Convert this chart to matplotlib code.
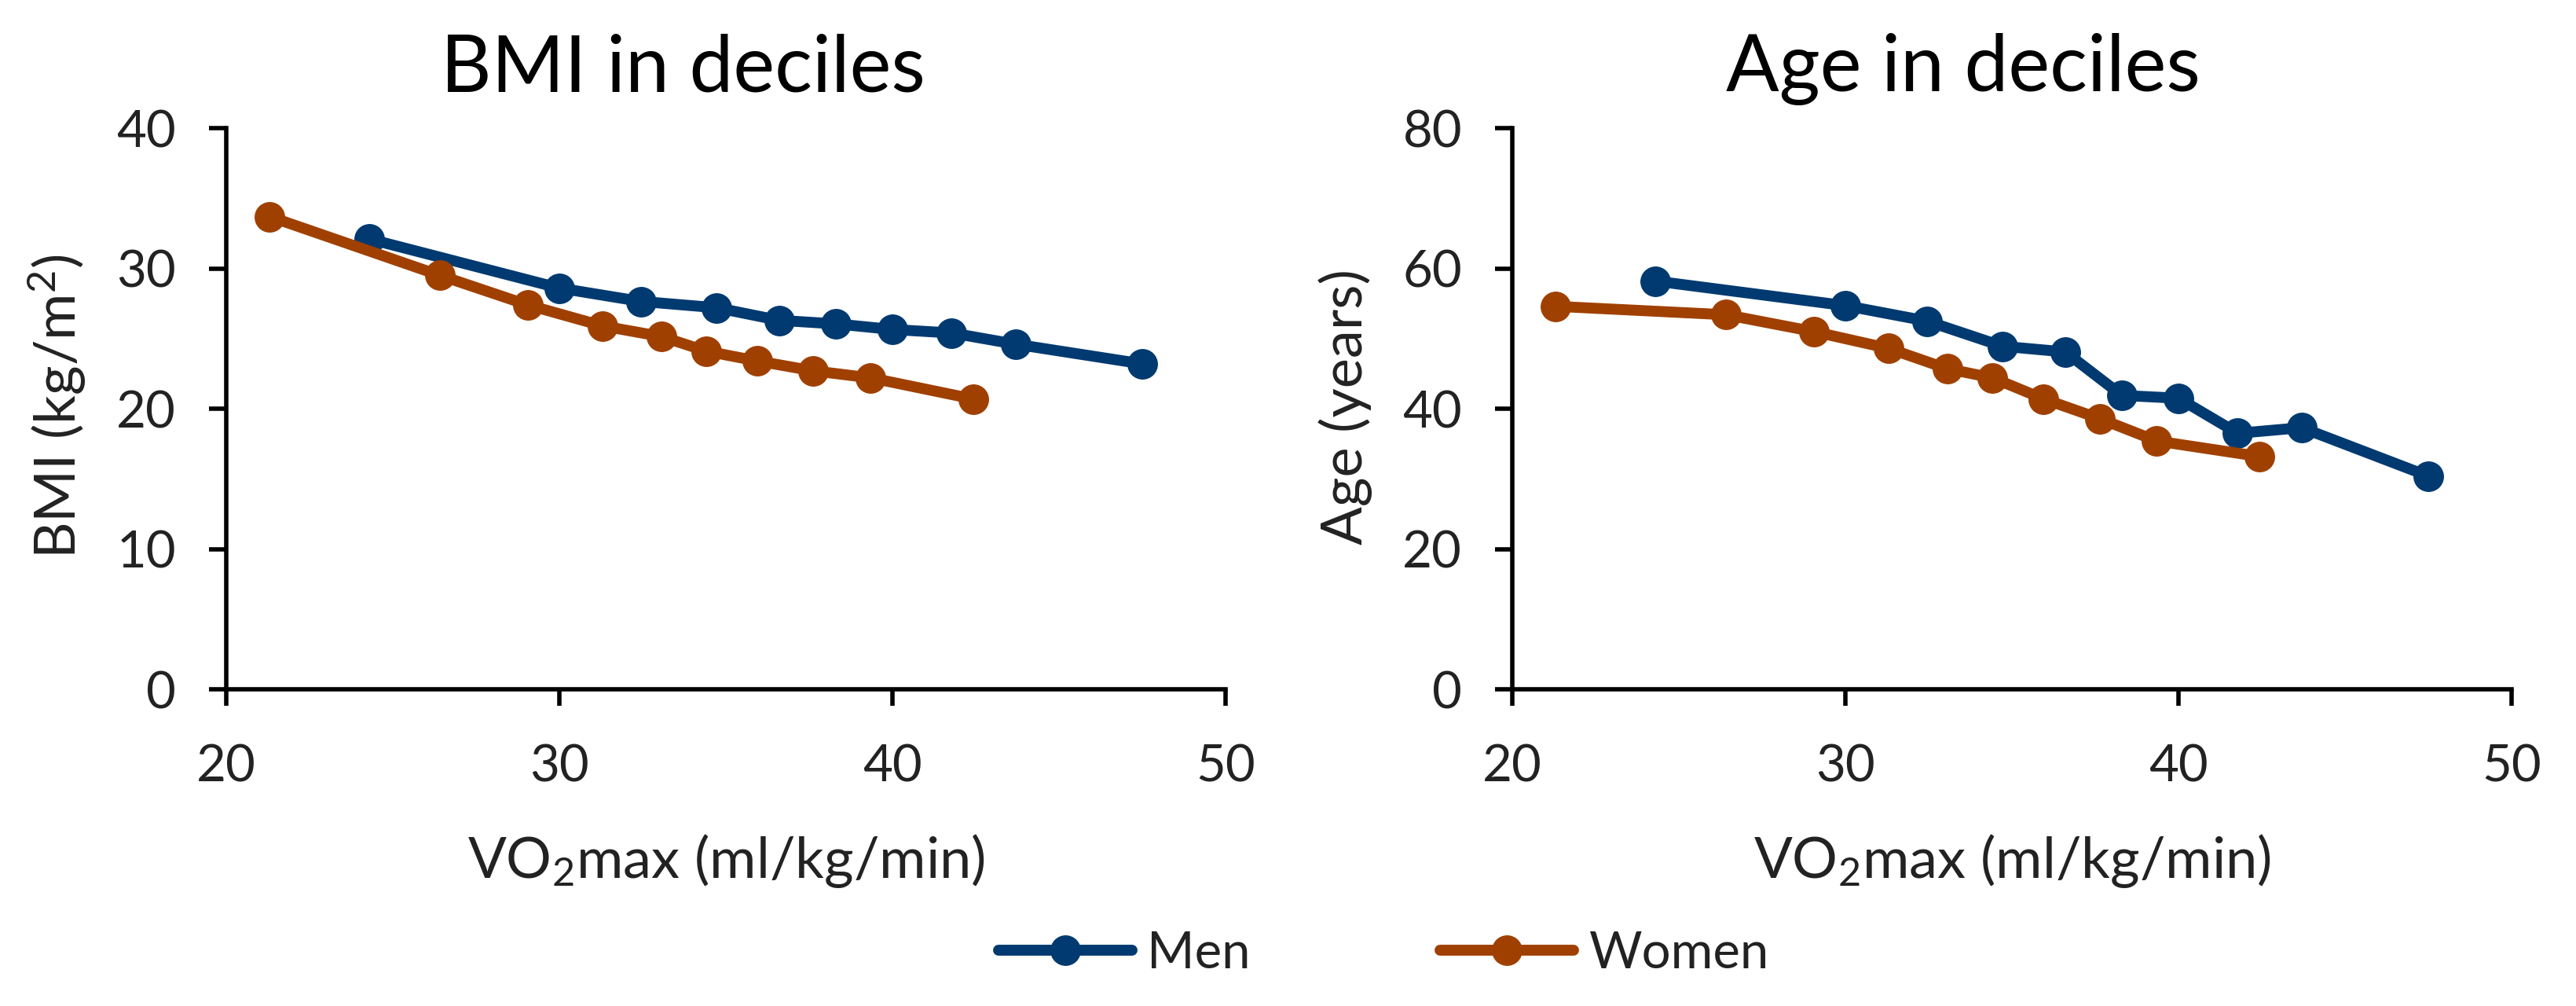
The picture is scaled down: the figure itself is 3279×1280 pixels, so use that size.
import matplotlib
matplotlib.use("Agg")
import matplotlib.pyplot as plt

plt.rcParams['font.family'] = ['Lato', 'DejaVu Sans']
plt.rcParams['mathtext.fontset'] = 'custom'
plt.rcParams['mathtext.rm'] = 'Lato'
plt.rcParams['mathtext.default'] = 'regular'

# VO2max per decile (ml/kg/min)
men_vo2 = [24.3, 30.0, 32.45, 34.72, 36.6, 38.3, 40.0, 41.78, 43.7, 47.5]
women_vo2 = [21.3, 26.42, 29.05, 31.3, 33.06, 34.42, 35.95, 37.63, 39.35, 42.42]

# BMI (kg/m2)
men_bmi = [32.1, 28.6, 27.65, 27.2, 26.3, 26.05, 25.65, 25.4, 24.6, 23.2]
women_bmi = [33.7, 29.5, 27.4, 25.9, 25.15, 24.1, 23.4, 22.7, 22.2, 20.7]

# Age (years)
men_age = [58.2, 54.7, 52.5, 48.9, 48.1, 41.9, 41.5, 36.5, 37.3, 30.4]
women_age = [54.6, 53.4, 51.0, 48.6, 45.7, 44.4, 41.4, 38.6, 35.4, 33.2]

men_color = '#003a70'
women_color = '#a04000'
text_color = '#222222'

fig = plt.figure(figsize=(32.8, 12.8), dpi=100)
ax1 = fig.add_axes([0.0878, 0.3148, 0.3878, 0.5578])
ax2 = fig.add_axes([0.5869, 0.3148, 0.3878, 0.5578])

panels = [
    (ax1, men_bmi, women_bmi, 40, [0, 10, 20, 30, 40]),
    (ax2, men_age, women_age, 80, [0, 20, 40, 60, 80]),
]

for ax, men_y, women_y, ymax, yticks in panels:
    ax.plot(men_vo2, men_y, color=men_color, lw=10, marker='o', ms=27,
            label='Men', solid_capstyle='round', clip_on=False)
    ax.plot(women_vo2, women_y, color=women_color, lw=10, marker='o', ms=27,
            label='Women', solid_capstyle='round', clip_on=False)
    ax.set_xlim(20, 50)
    ax.set_ylim(0, ymax)
    ax.set_xticks([20, 30, 40, 50])
    ax.set_yticks(yticks)
    for s in ['top', 'right']:
        ax.spines[s].set_visible(False)
    for s in ['left', 'bottom']:
        ax.spines[s].set_linewidth(4)
        ax.spines[s].set_color('black')
    ax.tick_params(axis='y', length=16, width=4, pad=30, labelsize=47,
                   labelcolor=text_color)
    ax.tick_params(axis='x', length=15, width=4, pad=35, labelsize=47,
                   labelcolor=text_color)

# titles and axis labels
fig.text(0.265, 0.909, 'BMI in deciles', ha='center', va='baseline',
         fontsize=72, color='black')
fig.text(0.762, 0.909, 'Age in deciles', ha='center', va='baseline',
         fontsize=72, color='black')
fig.text(0.2817, 0.127, 'VO$_2$max (ml/kg/min)', ha='center', va='baseline',
         fontsize=52, color=text_color)
fig.text(0.7808, 0.127, 'VO$_2$max (ml/kg/min)', ha='center', va='baseline',
         fontsize=52, color=text_color)
fig.text(0.022, 0.596, 'BMI (kg/m$^2$)', ha='center', va='center',
         rotation=90, fontsize=52, color=text_color)
fig.text(0.522, 0.596, 'Age (years)', ha='center', va='center',
         rotation=90, fontsize=52, color=text_color)

handles, labels = ax1.get_legend_handles_labels()
fig.legend(handles, labels, loc='center', bbox_to_anchor=(0.537, 0.052),
           ncol=2, frameon=False, fontsize=47, handlelength=2.6,
           handletextpad=0.3, columnspacing=3.7, labelcolor=text_color)

fig.savefig('out.png', dpi=100)
